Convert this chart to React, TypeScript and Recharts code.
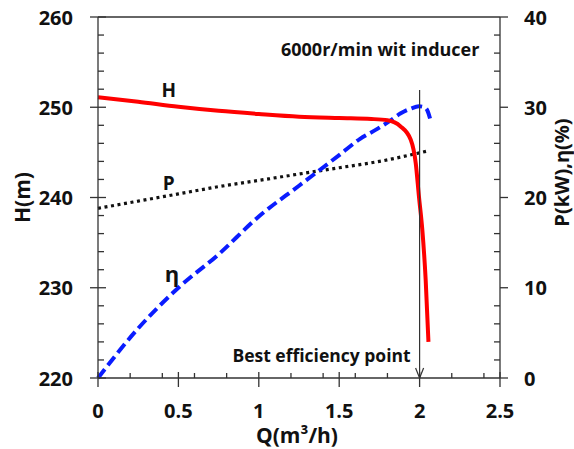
import React from 'react';
import { LineChart, Line, XAxis, YAxis, ReferenceLine, ReferenceDot, Label } from 'recharts';

// ---- data ----
const qH = [0, 0.25, 0.5, 0.75, 1.0, 1.25, 1.5, 1.7, 1.8, 1.88, 1.945, 1.976, 1.996, 2.017, 2.038, 2.055];
const hValues = [251.1, 250.6, 250.05, 249.6, 249.25, 248.95, 248.8, 248.7, 248.55, 247.9, 246.4, 243.8, 240.1, 236.4, 230.8, 224.0];

const qP = [0, 0.25, 0.5, 0.75, 1.0, 1.25, 1.5, 1.75, 2.06];
const pValues = [18.8, 19.6, 20.4, 21.2, 21.9, 22.6, 23.3, 24.0, 25.2];

const qEta = [0, 0.25, 0.5, 0.75, 1.0, 1.25, 1.5, 1.63, 1.737, 1.82, 1.88, 1.945, 1.996, 2.03, 2.048, 2.065];
const etaValues = [0, 5.5, 10.0, 13.7, 17.9, 21.3, 24.7, 26.5, 27.6, 28.55, 29.3, 29.85, 30.1, 30.0, 29.65, 28.75];

const xMajorTicks = [0, 0.5, 1, 1.5, 2, 2.5];
const leftMajorTicks = [220, 230, 240, 250, 260];
const rightMajorTicks = [0, 10, 20, 30, 40];

const bestQ = 2;
const arrowTopH = 251.9;

const hData = qH.map((q, i) => ({ q, v: hValues[i] }));
const pData = qP.map((q, i) => ({ q, v: pValues[i] }));
const etaData = qEta.map((q, i) => ({ q, v: etaValues[i] }));

const range = (a: number, b: number, s: number) => {
  const out: number[] = [];
  for (let v = a; v <= b + 1e-9; v += s) out.push(Math.round(v * 1000) / 1000);
  return out;
};
const xTicks = Array.from(new Set([...range(0, 2.5, 0.2), ...xMajorTicks])).sort((a, b) => a - b);
const leftTicks = range(220, 260, 2);
const rightTicks = range(0, 40, 2);

const AX = '#333';
const FONT = '"Open Sans", sans-serif';
const TICK_FS = 20;
const TITLE_FS = 21;

const isMajor = (v: number, arr: number[]) => arr.some((m) => Math.abs(m - v) < 1e-6);

const LeftTick = (props: any) => {
  const { x, y, payload } = props;
  const major = isMajor(payload.value, leftMajorTicks);
  return (
    <g>
      {major ? <line x1={x - 8} x2={x + 8} y1={y} y2={y} stroke={AX} strokeWidth={1.3} /> : <line x1={x} x2={x + 6} y1={y} y2={y} stroke={AX} strokeWidth={1.3} />}
      {major && (
        <text x={x - 25} y={y} textAnchor="end" dominantBaseline="central" fontSize={TICK_FS} fontWeight={700} fill="#111" fontFamily={FONT}>
          {payload.value}
        </text>
      )}
    </g>
  );
};

const RightTick = (props: any) => {
  const { x, y, payload } = props;
  const major = isMajor(payload.value, rightMajorTicks);
  return (
    <g>
      {major ? <line x1={x} x2={x + 8} y1={y} y2={y} stroke={AX} strokeWidth={1.3} /> : <line x1={x - 6} x2={x} y1={y} y2={y} stroke={AX} strokeWidth={1.3} />}
      {major && (
        <text x={x + 24} y={y} textAnchor="start" dominantBaseline="central" fontSize={TICK_FS} fontWeight={700} fill="#111" fontFamily={FONT}>
          {payload.value}
        </text>
      )}
    </g>
  );
};

const BottomTick = (props: any) => {
  const { x, y, payload } = props;
  const major = isMajor(payload.value, xMajorTicks);
  return (
    <g>
      {major ? <line x1={x} x2={x} y1={y - 6} y2={y + 9} stroke={AX} strokeWidth={1.3} /> : <line x1={x} x2={x} y1={y - 5} y2={y} stroke={AX} strokeWidth={1.3} />}
      {major && (
        <text x={x} y={y + 32} textAnchor="middle" dominantBaseline="central" fontSize={TICK_FS} fontWeight={700} fill="#111" fontFamily={FONT}>
          {payload.value}
        </text>
      )}
    </g>
  );
};

const ArrowShape = (props: any) => {
  const { x1, y1, x2, y2 } = props;
  return (
    <g>
      <line x1={x1} y1={y1} x2={x2} y2={y2} stroke={AX} strokeWidth={1.2} />
      <line x1={x2 - 4} y1={y2 - 10} x2={x2} y2={y2} stroke={AX} strokeWidth={1.2} />
      <line x1={x2 + 4} y1={y2 - 10} x2={x2} y2={y2} stroke={AX} strokeWidth={1.2} />
    </g>
  );
};

const makeText = (text: string, size: number, anchor: 'start' | 'middle' | 'end' = 'middle') => (p: any) => (
  <text x={p.cx} y={p.cy} textAnchor={anchor} dominantBaseline="central" fontSize={size} fontWeight={700} fill="#111" fontFamily={FONT}>
    {text}
  </text>
);

const annotations = [
  { text: 'H', q: 0.44, h: 251.9, size: 19 },
  { text: 'P', q: 0.44, h: 241.6, size: 19 },
  { text: 'η', q: 0.46, h: 231.6, size: 22 },
  { text: '6000r/min wit inducer', q: 1.755, h: 256.5, size: 18 },
  { text: 'Best efficiency point', q: 1.39, h: 222.55, size: 17.5 },
];

export default function App() {
  return (
    <div style={{ width: 574, height: 449, fontFamily: FONT }}>
      <style>{'html,body{margin:0;padding:0;overflow:hidden}'}</style>
      <LineChart width={574} height={449} margin={{ top: 17, right: 0, left: 0, bottom: 0 }}>
        <XAxis
          dataKey="q"
          type="number"
          domain={[0, 2.5]}
          ticks={xTicks}
          interval={0}
          tickSize={0}
          tickMargin={0}
          tickLine={false}
          tick={<BottomTick />}
          height={71}
          stroke={AX}
          strokeWidth={1.3}
          allowDuplicatedCategory={false}
        >
          <Label
            content={(p: any) => {
              const vb = p.viewBox;
              return (
                <text x={vb.x + vb.width / 2 - 2} y={vb.y + 57} textAnchor="middle" dominantBaseline="central" fontSize={TITLE_FS} fontWeight={700} fill="#111" fontFamily={FONT}>
                  Q(m³/h)
                </text>
              );
            }}
          />
        </XAxis>
        <YAxis
          yAxisId="left"
          orientation="left"
          domain={[220, 260]}
          ticks={leftTicks}
          interval={0}
          tickSize={0}
          tickMargin={0}
          tickLine={false}
          tick={<LeftTick />}
          width={98}
          stroke={AX}
          strokeWidth={1.3}
        >
          <Label
            content={(p: any) => {
              const vb = p.viewBox;
              const cx = vb.x + 22;
              const cy = vb.y + vb.height / 2;
              return (
                <text x={cx} y={cy} transform={`rotate(-90 ${cx} ${cy})`} textAnchor="middle" dominantBaseline="central" fontSize={TITLE_FS} fontWeight={700} fill="#111" fontFamily={FONT}>
                  H(m)
                </text>
              );
            }}
          />
        </YAxis>
        <YAxis
          yAxisId="right"
          orientation="right"
          domain={[0, 40]}
          ticks={rightTicks}
          interval={0}
          tickSize={0}
          tickMargin={0}
          tickLine={false}
          tick={<RightTick />}
          width={74}
          stroke={AX}
          strokeWidth={1.3}
        >
          <Label
            content={(p: any) => {
              const vb = p.viewBox;
              const cx = vb.x + 61;
              const cy = vb.y + vb.height / 2 - 25;
              return (
                <text x={cx} y={cy} transform={`rotate(-90 ${cx} ${cy})`} textAnchor="middle" dominantBaseline="central" fontSize={20} fontWeight={700} fill="#111" fontFamily={FONT}>
                  P(kW),η(%)
                </text>
              );
            }}
          />
        </YAxis>
        <ReferenceLine yAxisId="left" y={260} stroke={AX} strokeWidth={1.3} ifOverflow="visible" />
        <Line yAxisId="right" data={pData} dataKey="v" type="monotone" stroke="#111" strokeWidth={3.2} strokeDasharray="3 3.6" dot={false} isAnimationActive={false} />
        <Line yAxisId="right" data={etaData} dataKey="v" type="monotone" stroke="#0a1cff" strokeWidth={4} strokeDasharray="11 5" dot={false} isAnimationActive={false} />
        <Line yAxisId="left" data={hData} dataKey="v" type="monotone" stroke="#ff0000" strokeWidth={4} dot={false} isAnimationActive={false} />
        <ReferenceLine
          yAxisId="left"
          segment={[{ x: bestQ, y: arrowTopH }, { x: bestQ, y: 220 }]}
          shape={ArrowShape}
          ifOverflow="visible"
        />
        {annotations.map((a) => (
          <ReferenceDot key={a.text} yAxisId="left" x={a.q} y={a.h} r={0} ifOverflow="visible" shape={makeText(a.text, a.size)} />
        ))}
      </LineChart>
    </div>
  );
}
